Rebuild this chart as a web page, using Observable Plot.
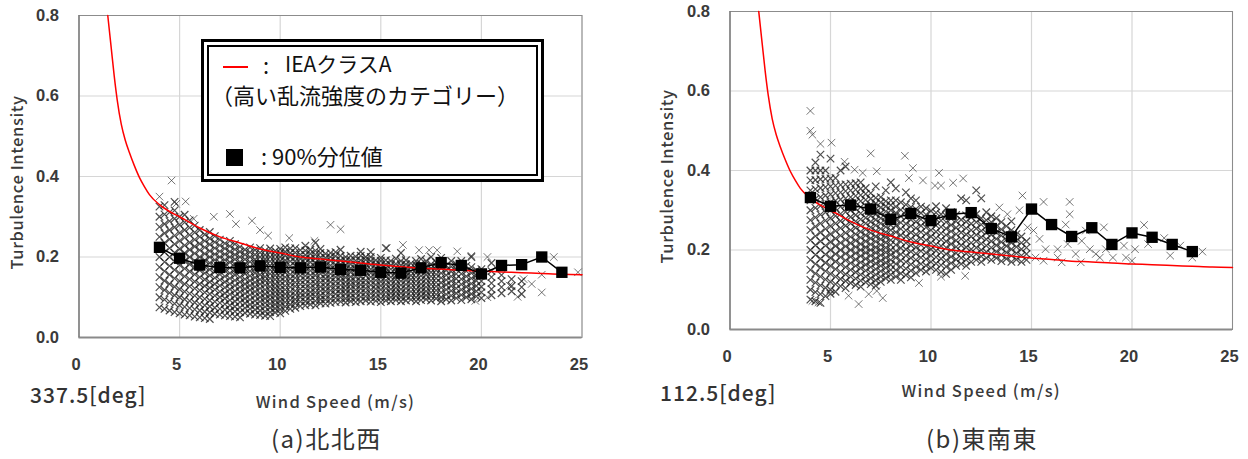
<!DOCTYPE html>
<html><head><meta charset="utf-8">
<script src="https://cdn.jsdelivr.net/npm/d3@7"></script>
<script src="https://cdn.jsdelivr.net/npm/@observablehq/plot@0.6"></script>
<style>
html,body{margin:0;padding:0;background:#fff}
#root{position:relative;width:1248px;height:459px;overflow:hidden;font-family:"Noto Sans CJK JP","Liberation Sans",sans-serif;color:#333}
#root svg{position:absolute;top:0;background:transparent}
.t{position:absolute;white-space:nowrap;line-height:1}
.legend{position:absolute;left:201px;top:39px;width:343px;height:143px;border:3px solid #000;background:#fff;padding:3px;box-sizing:border-box}
.legend .in{position:relative;width:100%;height:100%;border:2px solid #000;box-sizing:border-box;color:#111;font-size:22px}
.swatch-line{position:absolute;left:14px;top:19px;width:25px;height:2px;background:#f00}
.swatch-box{position:absolute;left:17px;top:102px;width:17px;height:17px;background:#000}
</style></head><body><div id="root"></div>
<script>
const curveX=[1.43,1.6,1.75,1.9,2.1,2.3,2.5,2.75,3,3.25,3.5,4,4.5,5,6,7,8,9,10,11,12,13,14,15,16,17,18,19,20,21,22,23,24,25];
const curveY=[.8,.72,.65,.59,.53,.49,.46,.427,.398,.375,.355,.33,.313,.3,.272,.25,.235,.22,.21,.2,.195,.19,.185,.18,.176,.172,.17,.167,.165,.163,.161,.159,.157,.156];

const binsA=[4,5,6,7,8,9,10,11,12,13,14,15,16,17,18,19,20,21,22,23,24];
const p90A=[.224,.197,.18,.174,.173,.178,.174,.173,.175,.169,.167,.162,.16,.173,.186,.179,.158,.179,.181,.2,.162];
const binsB=[4,5,6,7,8,9,10,11,12,13,14,15,16,17,18,19,20,21,22,23];
const p90B=[.332,.31,.313,.303,.277,.292,.274,.29,.294,.254,.233,.303,.264,.234,.256,.214,.243,.232,.214,.196];

const speedsA=[4,4.25,4.5,4.75,5,5.25,5.5,5.75,6,6.25,6.5,6.75,7,7.25,7.5,7.75,8,8.25,8.5,8.75,9,9.25,9.5,9.75,10,10.25,10.5,10.75,11,11.25,11.5,11.75,12,12.25,12.5,12.75,13,13.25,13.5,13.75,14,14.25,14.5,14.75,15,15.25,15.5,15.75,16,16.25,16.5,16.75,17,17.25,17.5,17.75,18,18.25,18.5,18.75,19,19.25,19.5,19.75,20,20.5,21,21.5,22];
const tiA=[
[.075,.1,.125,.15,.175,.2,.225,.25,.275,.3,.325],
[.071,.094,.118,.141,.165,.188,.212,.235,.259,.282,.306,.329],
[.067,.089,.111,.133,.156,.178,.2,.222,.244,.267,.289,.311],
[.063,.084,.105,.126,.147,.168,.189,.211,.232,.253,.274,.295,.316,.337],
[.06,.08,.1,.12,.14,.16,.18,.2,.22,.24,.26,.28,.3],
[.057,.076,.095,.114,.133,.152,.171,.19,.21,.229,.248,.267,.286,.305],
[.055,.073,.091,.109,.127,.145,.164,.182,.2,.218,.236,.255,.273,.291],
[.052,.07,.087,.104,.122,.139,.157,.174,.191,.209,.226,.243,.261,.278],
[.05,.067,.083,.1,.117,.133,.15,.167,.183,.2,.217,.233,.25,.267],
[.048,.064,.08,.096,.112,.128,.144,.16,.176,.192,.208,.224,.24,.256],
[.046,.062,.077,.092,.108,.123,.138,.154,.169,.185,.2,.215,.231,.246,.262],
[.059,.074,.089,.104,.119,.133,.148,.163,.178,.193,.207,.222,.237,.252],
[.057,.071,.086,.1,.114,.129,.143,.157,.171,.186,.2,.214,.229,.243],
[.055,.069,.083,.097,.11,.124,.138,.152,.166,.179,.193,.207,.221,.234],
[.053,.067,.08,.093,.107,.12,.133,.147,.16,.173,.187,.2,.213,.227,.24],
[.052,.065,.077,.09,.103,.116,.129,.142,.155,.168,.181,.194,.206,.219,.232],
[.05,.063,.075,.088,.1,.113,.125,.138,.15,.163,.175,.188,.2,.213,.225],
[.061,.073,.085,.097,.109,.121,.133,.145,.158,.17,.182,.194,.206,.218],
[.059,.071,.082,.094,.106,.118,.129,.141,.153,.165,.176,.188,.2,.212,.224],
[.057,.069,.08,.091,.103,.114,.126,.137,.149,.16,.171,.183,.194,.206,.217],
[.056,.067,.078,.089,.1,.111,.122,.133,.144,.156,.167,.178,.189,.2,.211,.222],
[.054,.065,.076,.086,.097,.108,.119,.13,.141,.151,.162,.173,.184,.195,.205,.216],
[.053,.063,.074,.084,.095,.105,.116,.126,.137,.147,.158,.168,.179,.189,.2,.211,.221],
[.062,.072,.082,.092,.103,.113,.123,.133,.144,.154,.164,.174,.185,.195,.205,.215],
[.06,.07,.08,.09,.1,.11,.12,.13,.14,.15,.16,.17,.18,.19,.2,.21,.22],
[.066,.077,.088,.098,.108,.119,.129,.14,.15,.161,.171,.182,.192,.203,.213,.224],
[.071,.082,.093,.103,.114,.125,.135,.146,.157,.168,.178,.189,.2,.21,.221],
[.074,.085,.095,.106,.116,.127,.137,.148,.158,.169,.179,.19,.2,.211,.222],
[.078,.089,.1,.11,.121,.132,.142,.153,.163,.174,.185,.195,.206,.217],
[.08,.09,.101,.111,.122,.132,.143,.153,.164,.174,.185,.195,.205,.216,.228],
[.082,.093,.103,.113,.124,.134,.145,.155,.166,.176,.187,.197,.208,.218],
[.08,.091,.102,.112,.122,.133,.143,.154,.164,.175,.185,.196,.206,.216,.235],
[.085,.095,.105,.116,.126,.137,.147,.158,.168,.178,.189,.199,.21,.22],
[.084,.094,.104,.115,.125,.135,.146,.156,.167,.177,.187,.198,.208],
[.086,.096,.107,.117,.127,.138,.148,.158,.169,.179,.19,.2,.21],
[.088,.098,.108,.119,.129,.139,.15,.16,.17,.181,.191,.202,.212],
[.089,.099,.11,.12,.13,.141,.151,.161,.172,.182,.192,.203,.218],
[.087,.097,.108,.118,.128,.138,.149,.159,.169,.18,.19,.2],
[.09,.1,.11,.121,.131,.141,.151,.162,.172,.182,.193,.203],
[.088,.098,.109,.119,.129,.139,.15,.16,.17,.18,.191,.201],
[.09,.101,.111,.121,.131,.141,.151,.162,.172,.182,.192,.203,.213],
[.092,.102,.112,.122,.132,.142,.153,.163,.173,.183,.193,.2],
[.089,.099,.109,.119,.13,.14,.15,.16,.17,.18,.19,.2,.212],
[.091,.101,.111,.121,.131,.142,.152,.162,.172,.182,.192],
[.088,.098,.109,.119,.129,.139,.149,.159,.169,.18,.19,.198],
[.092,.102,.112,.122,.132,.142,.152,.162,.172,.182,.192,.222],
[.09,.1,.11,.12,.13,.14,.15,.16,.17,.18,.19],
[.093,.103,.113,.123,.133,.143,.153,.163,.173,.183,.196],
[.09,.1,.11,.12,.13,.14,.15,.16,.17,.18,.19,.21],
[.092,.102,.112,.122,.132,.142,.152,.162,.172,.182,.192],
[.094,.104,.114,.124,.134,.144,.154,.164,.174,.184],
[.09,.1,.11,.12,.13,.14,.15,.16,.17,.18,.19],
[.093,.103,.113,.123,.133,.143,.153,.163,.173,.183,.195],
[.095,.105,.115,.125,.135,.145,.155,.165,.175,.19],
[.092,.102,.112,.122,.132,.142,.152,.162,.172,.182,.2],
[.097,.107,.117,.127,.137,.147,.157,.167,.177,.187],
[.09,.1,.112,.124,.136,.148,.16,.172,.184,.198],
[.095,.107,.119,.131,.143,.155,.167,.179],
[.092,.104,.116,.128,.14,.152,.164,.176,.19],
[.098,.11,.122,.134,.146,.158,.17,.182],
[.093,.106,.119,.132,.145,.158,.171,.19],
[.1,.113,.126,.139,.152,.165,.178],
[.095,.108,.121,.134,.147,.16,.175,.2],
[.102,.115,.128,.141,.154,.167],
[.098,.112,.126,.14,.154,.17],
[.105,.12,.135,.15,.165,.185],
[.11,.125,.14,.155],
[.115,.128,.145],
[.108,.125,.14]];
const looseXA=[4.6,4,4.83,5.3,5.7,6.7,7.5,7.8,8.6,9,12.5,13,9.4,10.45,11.7,16.1,15.3,16.9,17.4,17.8,18.8,19.5,20.3,23.6,24.8,23,23,22.5,21.8,21.4,22.1,20.3,19.7];
const looseYA=[.39,.35,.332,.338,.295,.3,.307,.282,.29,.267,.28,.269,.253,.247,.24,.23,.222,.217,.217,.217,.214,.203,.2,.2,.162,.156,.112,.133,.101,.129,.145,.1,.091];

const speedsB=[4,4.25,4.5,4.75,5,5.25,5.5,5.75,6,6.25,6.5,6.75,7,7.25,7.5,7.75,8,8.25,8.5,8.75,9,9.25,9.5,9.75,10,10.25,10.5,10.75,11,11.25,11.5,11.75,12,12.25,12.5,12.75,13,13.25,13.5,13.75,14,14.25,14.5,14.75];
const tiB=[
[.075,.1,.125,.15,.175,.2,.225,.25,.275,.3,.325,.35,.375,.4],
[.071,.094,.118,.141,.165,.188,.212,.235,.259,.282,.306,.329,.353,.376,.4,.42],
[.067,.089,.111,.133,.156,.178,.2,.222,.244,.267,.289,.311,.333,.356,.378,.4,.44],
[.084,.105,.126,.147,.168,.189,.211,.232,.253,.274,.295,.316,.337,.358,.379,.4],
[.09,.1,.12,.14,.16,.18,.2,.22,.24,.26,.28,.3,.32,.34,.36,.38,.43],
[.095,.114,.133,.152,.171,.19,.21,.229,.248,.267,.286,.305,.324,.343,.362,.381],
[.109,.127,.145,.164,.182,.2,.218,.236,.255,.273,.291,.309,.327,.345,.364,.4],
[.104,.122,.139,.157,.174,.191,.209,.226,.243,.261,.278,.296,.313,.33,.348,.365,.41],
[.117,.133,.15,.167,.183,.2,.217,.233,.25,.267,.283,.3,.317,.333,.35,.367],
[.112,.128,.144,.16,.176,.192,.208,.224,.24,.256,.272,.288,.304,.32,.336,.352,.368],
[.108,.123,.138,.154,.169,.185,.2,.215,.231,.246,.262,.277,.292,.308,.323,.338,.354,.37],
[.119,.133,.148,.163,.178,.193,.207,.222,.237,.252,.267,.281,.296,.311,.326,.341,.356],
[.114,.129,.143,.157,.171,.186,.2,.214,.229,.243,.257,.271,.286,.3,.314,.329,.343],
[.11,.124,.138,.152,.166,.179,.193,.207,.221,.234,.248,.262,.276,.29,.303,.317,.331,.36],
[.12,.133,.147,.16,.173,.187,.2,.213,.227,.24,.253,.267,.28,.293,.307,.32,.333],
[.129,.142,.155,.168,.181,.194,.206,.219,.232,.245,.258,.271,.284,.297,.31,.323,.35],
[.125,.138,.15,.163,.175,.188,.2,.213,.225,.238,.25,.263,.275,.288,.3,.313,.325,.37],
[.133,.149,.165,.181,.197,.213,.229,.245,.261,.277,.293,.309,.325,.355],
[.125,.141,.157,.173,.189,.205,.221,.237,.253,.269,.285,.301,.32],
[.137,.153,.17,.186,.202,.218,.234,.25,.266,.282,.298,.314,.345],
[.131,.148,.164,.18,.196,.212,.228,.244,.26,.276,.292,.308,.33],
[.142,.158,.175,.191,.207,.223,.239,.255,.271,.287,.303,.325],
[.15,.165,.181,.197,.213,.229,.245,.261,.277,.293,.309],
[.146,.161,.177,.193,.209,.225,.241,.257,.273,.289,.305],
[.155,.17,.186,.202,.218,.234,.25,.266,.282,.298],
[.15,.166,.182,.198,.214,.23,.246,.262,.278,.294,.31],
[.145,.162,.178,.194,.21,.226,.242,.258,.274,.29],
[.14,.158,.174,.19,.206,.222,.238,.254,.27,.286,.305],
[.15,.167,.183,.199,.215,.231,.247,.263,.279,.295],
[.16,.176,.192,.208,.224,.24,.256,.272,.288],
[.165,.18,.196,.212,.228,.244,.26,.276,.33],
[.16,.175,.191,.207,.223,.239,.255,.271,.287,.325],
[.17,.186,.202,.218,.234,.25,.266,.282],
[.175,.19,.206,.222,.238,.254,.27,.29,.35],
[.17,.184,.2,.216,.232,.248,.264,.28,.33],
[.18,.195,.211,.227,.243,.259,.275,.295],
[.175,.19,.206,.222,.238,.254,.27,.285],
[.18,.196,.212,.228,.244,.26,.28],
[.172,.188,.204,.22,.236,.252,.27],
[.178,.194,.21,.226,.242,.26],
[.17,.186,.202,.218,.234,.25,.272],
[.176,.192,.208,.224,.24],
[.17,.186,.202,.218,.234],
[.175,.19,.206,.222]];
const looseXB=[4,4,4.1,5.05,4.5,7,8.7,9.1,7.3,10.4,11.6,11.1,10.2,10.5,9.6,8.9,6.6,5.7,6.2,14.55,16.9,16.9,15.6,20.6,21.6,23.5,18.6,13.4,13.8,14.4,9.4,11.7,10.5,6.4,5.9,7.6,7.3,6.9,4.4,4.1,14.8,15.1,15.4,15.7,15.2,16.3,16.5,16.7,17.45,17.5,17.7,18.2,18.4,19.05,19.7,20,19.6,20.15,20.8,21.9,22.4,23,16.8,17.2,17.9,18.7,16.3,15.6];
const looseYB=[.55,.5,.49,.47,.467,.443,.437,.406,.398,.394,.38,.369,.362,.362,.375,.381,.394,.422,.402,.337,.321,.29,.321,.263,.23,.196,.257,.307,.29,.3,.117,.135,.133,.064,.085,.079,.097,.089,.068,.072,.257,.249,.228,.202,.181,.202,.169,.264,.169,.223,.249,.19,.181,.181,.181,.173,.211,.202,.215,.186,.211,.181,.215,.19,.202,.202,.181,.173];

const xTicks=[0,5,10,15,20,25];
const yTicks=[0,.2,.4,.6,.8];
const ink="#3a3a3a", gridInk="#d6d6d6", frameInk="#8c8c8c";
const tickFont='"Liberation Sans",Arial,sans-serif';
const labelFont='"Noto Sans CJK JP",sans-serif';

function panel({left,plotL,plotR,plotT,plotB,speeds,ti,looseX,looseY,bins,p90,xOff,xDx,yOff,yDx}){
  const W=plotR+24;
  const cloud=speeds.flatMap((x,i)=>ti[i].map(y=>({x,y})));
  const loose=looseX.map((x,i)=>({x,y:looseY[i]}));
  const red=curveX.map((x,i)=>({x,y:curveY[i]}));
  const q=bins.map((x,i)=>({x,y:p90[i]}));
  const svg=Plot.plot({
    width:W,height:459,marginLeft:plotL,marginRight:W-plotR,marginTop:plotT,marginBottom:459-plotB,
    style:{background:"transparent",overflow:"visible"},
    x:{domain:[0,25],ticks:xTicks},
    y:{domain:[0,.8],ticks:yTicks},
    marks:[
      Plot.gridX(xTicks,{stroke:gridInk,strokeOpacity:1,strokeWidth:1.2}),
      Plot.gridY(yTicks,{stroke:gridInk,strokeOpacity:1,strokeWidth:1.2}),
      Plot.frame({stroke:frameInk,strokeWidth:1}),
      Plot.ruleY([0],{stroke:"#8a8a8a",strokeWidth:2}),
      Plot.ruleX([0],{stroke:"#777",strokeWidth:1.2}),
      Plot.dot(loose,{x:"x",y:"y",symbol:"times",r:3.5,stroke:"#333",strokeWidth:.9,strokeOpacity:.75}),
      Plot.dot(cloud,{x:"x",y:"y",symbol:"times",r:3.5,stroke:"#1c1c1c",strokeWidth:1.2,strokeOpacity:.78}),
      Plot.line(red,{x:"x",y:"y",stroke:"#f00",strokeWidth:1.5,curve:"monotone-x"}),
      Plot.line(q,{x:"x",y:"y",stroke:"#000",strokeWidth:1.5}),
      Plot.dot(q,{x:"x",y:"y",symbol:"square",r:6.4,fill:"#000",stroke:"none"}),
      Plot.axisX(xTicks,{tickSize:0,tickPadding:21,fontSize:16.5,fontWeight:"bold",fontFamily:tickFont,color:ink,dx:-3,
        label:"Wind Speed (m/s)",labelAnchor:"center",labelArrow:"none",labelOffset:xOff}),
      Plot.axisY(yTicks,{tickSize:0,tickPadding:20,fontSize:16.5,fontWeight:"bold",fontFamily:tickFont,color:ink,tickFormat:d3.format(".1f"),
        label:"Turbulence Intensity",labelAnchor:"center",labelArrow:"none",labelOffset:yOff})
    ]
  });
  svg.style.left=left+"px";
  d3.select(svg).selectAll('[aria-label="x-axis label"] text').attr("dx",xDx).attr("font-size",16.5).attr("font-family",labelFont).attr("font-weight",500).attr("letter-spacing","1.3px").attr("fill",ink);
  d3.select(svg).selectAll('[aria-label="y-axis label"] text').attr("dx",yDx).attr("font-size",16.5).attr("font-family",labelFont).attr("font-weight",500).attr("letter-spacing",".6px").attr("fill",ink);
  return svg;
}
const root=document.getElementById("root");
root.appendChild(panel({left:0,plotL:78.5,plotR:581.5,plotT:15,plotB:337,speeds:speedsA,ti:tiA,looseX:looseXA,looseY:looseYA,bins:binsA,p90:p90A,xOff:70,xDx:5,yOff:68,yDx:-6}));
root.appendChild(panel({left:650,plotL:79.5,plotR:582,plotT:11,plotB:329,speeds:speedsB,ti:tiB,looseX:looseXB,looseY:looseYB,bins:binsB,p90:p90B,xOff:67,xDx:0,yOff:69,yDx:-6}));

function text(s,l,t,size,extra){const d=document.createElement("div");d.className="t";d.textContent=s;d.style.left=l+"px";d.style.top=t+"px";d.style.fontSize=size+"px";if(extra)Object.assign(d.style,extra);root.appendChild(d);return d;}
text("337.5[deg]",30,384,21,{fontWeight:"500",letterSpacing:"1px"});
text("112.5[deg]",660,382,21,{fontWeight:"500",letterSpacing:"1px"});
text("(a)北北西",271,426,24,{letterSpacing:"1.5px"});
text("(b)東南東",926,426,24,{letterSpacing:"1.5px"});

const lg=document.createElement("div");lg.className="legend";
lg.innerHTML='<div class="in"><div class="swatch-line"></div><div class="t" style="left:54px;top:6px;">:</div><div class="t" style="left:76px;top:6px;font-size:21px">IEAクラスA</div><div class="t" style="left:2px;top:36px">（高い乱流強度のカテゴリー）</div><div class="swatch-box"></div><div class="t" style="left:52px;top:97px">: 90%分位値</div></div>';
root.appendChild(lg);
</script></body></html>
